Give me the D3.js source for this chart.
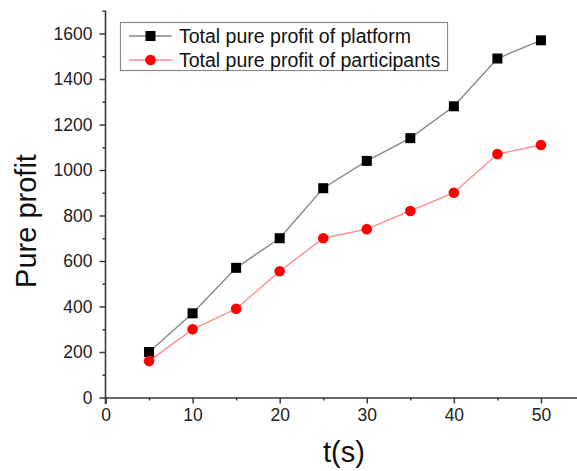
<!DOCTYPE html>
<html>
<head>
<meta charset="utf-8">
<script src="https://cdn.jsdelivr.net/npm/d3@7"></script>
<style>
  html, body { margin: 0; padding: 0; background: #fff; }
  svg { display: block; font-family: Arial, "Liberation Sans", sans-serif; }
</style>
</head>
<body>
<svg id="chart" width="577" height="471"></svg>
<script>
// Time points (s)
const times = [5, 10, 15, 20, 25, 30, 35, 40, 45, 50];
// Total pure profit of the platform
const platformProfit = [200, 370, 570, 700, 920, 1040, 1140, 1280, 1490, 1570];
// Total pure profit of the participants
const participantProfit = [160, 300, 390, 555, 700, 740, 820, 900, 1070, 1110];

const xTicks = [0, 10, 20, 30, 40, 50];
const xMinor = [5, 15, 25, 35, 45, 55];
const yTicks = [0, 200, 400, 600, 800, 1000, 1200, 1400, 1600];
const yMinor = [100, 300, 500, 700, 900, 1100, 1300, 1500, 1700];

const seriesNames = ["Total pure profit of platform", "Total pure profit of participants"];

const svg = d3.select("#chart");
const axisColor = "#3a3a3a";

const x = d3.scaleLinear().domain([0, 55]).range([105.5, 584.5]);
const y = d3.scaleLinear().domain([0, 1700]).range([397.5, 10.75]);

// Axes
const xAxis = svg.append("g").attr("transform", "translate(0,397.5)")
  .call(d3.axisBottom(x).tickValues(xTicks).tickSize(6).tickPadding(5).tickFormat(d3.format("d")));
const xAxisMinor = svg.append("g").attr("transform", "translate(0,397.5)")
  .call(d3.axisBottom(x).tickValues(xMinor).tickSize(3).tickFormat(""));
const yAxis = svg.append("g").attr("transform", "translate(105.5,0)")
  .call(d3.axisLeft(y).tickValues(yTicks).tickSize(6).tickPadding(7).tickFormat(d3.format("d")));
const yAxisMinor = svg.append("g").attr("transform", "translate(105.5,0)")
  .call(d3.axisLeft(y).tickValues(yMinor).tickSize(3).tickFormat(""));

[xAxis, xAxisMinor, yAxis, yAxisMinor].forEach(g => {
  g.select(".domain").attr("stroke", axisColor).attr("stroke-width", 1.6);
  g.selectAll(".tick line").attr("stroke", axisColor).attr("stroke-width", 1.5);
  g.selectAll(".tick text").attr("fill", "#222").style("font-size", "17.5px")
    .style("font-family", "Arial, 'Liberation Sans', sans-serif");
});
xAxisMinor.select(".domain").remove();
yAxisMinor.select(".domain").remove();
// y axis reaches down through the x axis
yAxis.select(".domain").attr("d", `M0,${y(1700)}V404`);

// Axis titles
svg.append("text")
  .attr("x", 344).attr("y", 462)
  .attr("text-anchor", "middle")
  .style("font-size", "29px").attr("fill", "#111")
  .text("t(s)");
svg.append("text")
  .attr("transform", "translate(36,221) rotate(-90)")
  .attr("text-anchor", "middle")
  .style("font-size", "29px").attr("fill", "#111")
  .text("Pure profit");

const line = d3.line().x(d => x(d[0])).y(d => y(d[1]));

const platformPts = times.map((t, i) => [t, platformProfit[i]]);
const participantPts = times.map((t, i) => [t, participantProfit[i]]);

svg.append("path").datum(platformPts)
  .attr("d", line).attr("fill", "none").attr("stroke", "#888").attr("stroke-width", 1.4);
svg.append("path").datum(participantPts)
  .attr("d", line).attr("fill", "none").attr("stroke", "#ff8a8a").attr("stroke-width", 1.4);

const sq = 10;
svg.append("g").selectAll("rect").data(platformPts).join("rect")
  .attr("x", d => x(d[0]) - sq / 2).attr("y", d => y(d[1]) - sq / 2)
  .attr("width", sq).attr("height", sq).attr("fill", "#000");
svg.append("g").selectAll("circle").data(participantPts).join("circle")
  .attr("cx", d => x(d[0])).attr("cy", d => y(d[1])).attr("r", 5.3).attr("fill", "#ff0000");

// Legend
const legend = svg.append("g");
legend.append("rect")
  .attr("x", 120.5).attr("y", 22.5).attr("width", 327).attr("height", 48)
  .attr("fill", "#fff").attr("stroke", "#8a8a8a").attr("stroke-width", 1.2);
const rows = [
  { name: seriesNames[0], line: "#888", mark: "square", y: 36 },
  { name: seriesNames[1], line: "#ff8a8a", mark: "circle", y: 60 }
];
rows.forEach(r => {
  legend.append("line").attr("x1", 129).attr("x2", 172).attr("y1", r.y).attr("y2", r.y)
    .attr("stroke", r.line).attr("stroke-width", 1.4);
  if (r.mark === "square") {
    legend.append("rect").attr("x", 150.5 - sq / 2).attr("y", r.y - sq / 2)
      .attr("width", sq).attr("height", sq).attr("fill", "#000");
  } else {
    legend.append("circle").attr("cx", 150.5).attr("cy", r.y).attr("r", 5.3).attr("fill", "#ff0000");
  }
  legend.append("text").attr("x", 179).attr("y", r.y).attr("dy", "0.35em")
    .style("font-size", "19.5px").attr("fill", "#111").text(r.name);
});
</script>
</body>
</html>
